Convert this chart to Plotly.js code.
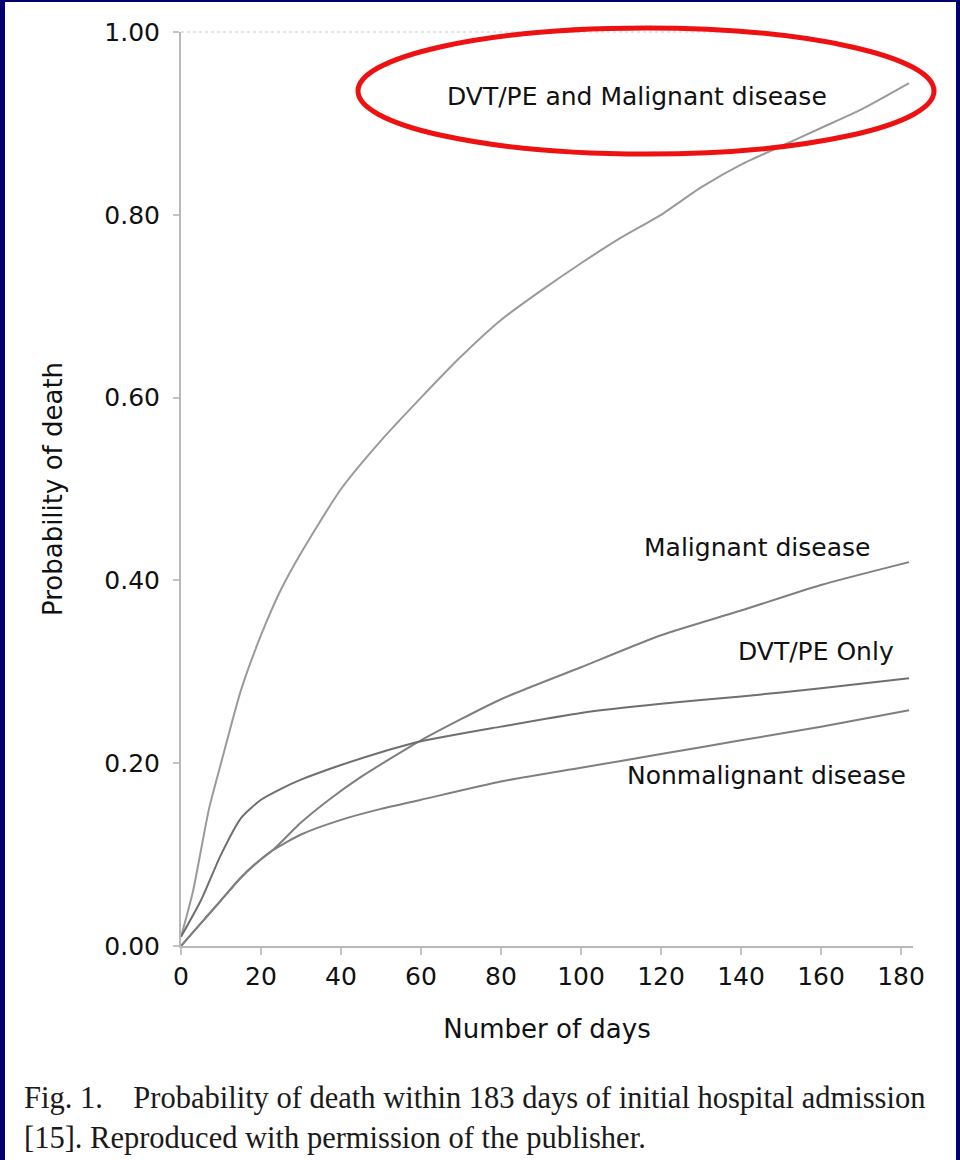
<!DOCTYPE html>
<html>
<head>
<meta charset="utf-8">
<script src="https://cdn.plot.ly/plotly-3.0.1.min.js"></script>
<style>
  html, body { margin: 0; padding: 0; background: #00006e; width: 960px; height: 1160px; overflow: hidden; }
  #plot { position: absolute; left: 5px; top: 2px; width: 951px; height: 1158px; background: #ffffff; }
</style>
</head>
<body>
<div id="plot"></div>
<script>
// Days since admission
const daysTop = [0, 3, 7, 10, 15, 20, 25, 30, 40, 50, 60, 70, 80, 90, 100, 110, 120, 130, 140, 150, 160, 170, 182];
const dvtMalignant = [0.01, 0.06, 0.15, 0.20, 0.28, 0.34, 0.39, 0.43, 0.50, 0.553, 0.60, 0.645, 0.685, 0.717, 0.747, 0.775, 0.80, 0.83, 0.855, 0.875, 0.895, 0.915, 0.944];

const daysMal = [0, 5, 10, 15, 20, 23, 30, 37, 45, 60, 80, 100, 120, 140, 160, 182];
const malignant = [0.0, 0.025, 0.05, 0.075, 0.095, 0.105, 0.135, 0.16, 0.185, 0.225, 0.27, 0.305, 0.34, 0.367, 0.395, 0.42];

const daysDvt = [0, 5, 10, 15, 20, 25, 30, 40, 50, 60, 80, 100, 120, 140, 160, 182];
const dvtOnly = [0.01, 0.05, 0.10, 0.14, 0.16, 0.172, 0.182, 0.198, 0.212, 0.224, 0.24, 0.255, 0.265, 0.273, 0.282, 0.293];

const daysNon = [0, 5, 10, 15, 20, 23, 30, 40, 50, 60, 80, 100, 120, 140, 160, 182];
const nonmalignant = [0.0, 0.025, 0.05, 0.075, 0.095, 0.105, 0.122, 0.138, 0.15, 0.16, 0.18, 0.195, 0.21, 0.225, 0.24, 0.258];

const seriesNames = ["DVT/PE and Malignant disease", "Malignant disease", "DVT/PE Only", "Nonmalignant disease"];
const xTicks = [0, 20, 40, 60, 80, 100, 120, 140, 160, 180];
const yTicks = [0, 0.2, 0.4, 0.6, 0.8, 1.0];
const captionLine1 = "Fig. 1.\u00a0\u00a0\u00a0 Probability of death within 183 days of initial hospital admission";
const captionLine2 = "[15]. Reproduced with permission of the publisher.";

const lineStyle = (c) => ({ color: c, width: 2 });

const traces = [
  { x: daysTop, y: dvtMalignant, name: seriesNames[0], mode: "lines", line: Object.assign(lineStyle("#9a9a9a"), { shape: "spline", smoothing: 0.6 }) },
  { x: daysMal, y: malignant, name: seriesNames[1], mode: "lines", line: Object.assign(lineStyle("#7f7f7f"), { shape: "spline", smoothing: 0.6 }) },
  { x: daysDvt, y: dvtOnly, name: seriesNames[2], mode: "lines", line: Object.assign(lineStyle("#6f6f6f"), { shape: "spline", smoothing: 0.6 }) },
  { x: daysNon, y: nonmalignant, name: seriesNames[3], mode: "lines", line: Object.assign(lineStyle("#7f7f7f"), { shape: "spline", smoothing: 0.6 }) }
];

const labelFont = { family: "DejaVu Sans", size: 25, color: "#111111" };

const layout = {
  width: 951,
  height: 1158,
  paper_bgcolor: "#ffffff",
  plot_bgcolor: "#ffffff",
  showlegend: false,
  margin: { l: 176, r: 43, t: 30, b: 214 },
  font: { family: "DejaVu Sans", size: 25, color: "#111111" },
  xaxis: {
    range: [0, 183],
    tickvals: xTicks,
    ticktext: xTicks.map(String),
    showgrid: false,
    zeroline: false,
    showline: true,
    linecolor: "#b8b8b8",
    linewidth: 2,
    ticks: "outside",
    ticklen: 7,
    tickwidth: 2,
    tickcolor: "#c4c4c4",
    tickfont: { family: "DejaVu Sans", size: 25, color: "#111111" },
    title: { text: "Number of days", font: { family: "DejaVu Sans", size: 26, color: "#111111" }, standoff: 30 }
  },
  yaxis: {
    range: [0, 1.0],
    tickvals: yTicks,
    ticktext: yTicks.map(v => v.toFixed(2)),
    showgrid: false,
    zeroline: false,
    showline: true,
    linecolor: "#b8b8b8",
    linewidth: 2,
    ticks: "outside",
    ticklen: 6,
    tickwidth: 2,
    tickcolor: "#c4c4c4",
    ticklabelstandoff: 8,
    tickfont: { family: "DejaVu Sans", size: 25, color: "#111111" },
    title: { text: "Probability of death", font: { family: "DejaVu Sans", size: 26, color: "#111111" }, standoff: 34 }
  },
  annotations: [
    { x: 114, y: 0.929, xref: "x", yref: "y", text: seriesNames[0], showarrow: false, font: labelFont, xanchor: "center", yanchor: "middle" },
    { x: 144, y: 0.4365, xref: "x", yref: "y", text: seriesNames[1], showarrow: false, font: labelFont, xanchor: "center", yanchor: "middle" },
    { x: 158.75, y: 0.3217, xref: "x", yref: "y", text: seriesNames[2], showarrow: false, font: labelFont, xanchor: "center", yanchor: "middle" },
    { x: 146.25, y: 0.187, xref: "x", yref: "y", text: seriesNames[3], showarrow: false, font: labelFont, xanchor: "center", yanchor: "middle" },
    { x: -0.2172, y: -0.1663, xref: "paper", yref: "paper", text: captionLine1, showarrow: false, xanchor: "left", yanchor: "middle", font: { family: "Liberation Serif", size: 30.5, color: "#1a1a1a" } },
    { x: -0.2172, y: -0.2101, xref: "paper", yref: "paper", text: captionLine2, showarrow: false, xanchor: "left", yanchor: "middle", font: { family: "Liberation Serif", size: 30.5, color: "#1a1a1a" } }
  ],
  shapes: [
    { type: "line", xref: "paper", yref: "paper", x0: 0, x1: 0.8, y0: 1, y1: 1, line: { color: "#e4e4e4", width: 2, dash: "dot" } },
    { type: "circle", xref: "paper", yref: "paper", x0: 0.2418, x1: 1.0287, y0: 0.8665, y1: 1.0044, line: { color: "#ee1111", width: 5 } }
  ]
};

Plotly.newPlot("plot", traces, layout, { displayModeBar: false, staticPlot: true });
</script>
</body>
</html>
